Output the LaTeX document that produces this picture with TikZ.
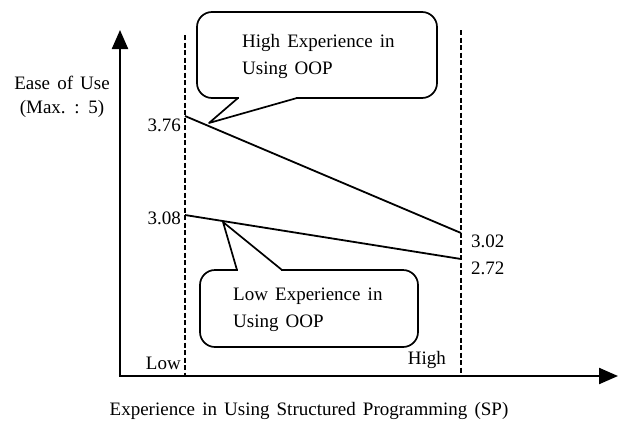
\documentclass[tikz,border=0pt]{standalone}
\usepackage{fontspec}
\setmainfont[WordSpace=1.5]{Liberation Serif}
\usetikzlibrary{arrows.meta}
\tikzset{
  axis/.style={line width=2.2pt,-{Triangle[length=19pt,width=16pt]}},
  guide/.style={line width=1.6pt,dash pattern=on 5pt off 2.5pt},
  trend/.style={line width=1.8pt},
  bubble/.style={line width=1.7pt,line join=round},
  lbl/.style={font=\fontsize{19}{27}\selectfont,inner sep=0pt,align=left},
}
\begin{document}
\begin{tikzpicture}[x=1pt,y=-1pt]
	\useasboundingbox (0,0) rectangle (621,429);
	\coordinate (orig) at (120,376);
	\coordinate (ytop) at (120,30);
	\coordinate (xend) at (618,376);
	\draw[axis] (orig) -- (ytop); % ease of use
	\draw[axis] ([xshift=-1.1pt]orig) -- (xend); % SP experience
	\coordinate (lowTop) at (185,35);
	\coordinate (lowBot) at (185,376);
	\coordinate (highTop) at (461,30);
	\coordinate (highBot) at (461,376);
	\draw[guide] (lowTop) -- (lowBot); % low SP
	\draw[guide] (highTop) -- (highBot); % high SP
	% callouts
	\coordinate (hiTip) at (209,123);
	\coordinate (loTip) at (223,222);
	\draw[bubble,rounded corners=15pt] (197,12) rectangle (437,98);
	\fill[white] (239,95) rectangle (296,101);
	\draw[bubble] (238,98) -- (hiTip) -- (297,98);
	\draw[bubble,rounded corners=15pt] (200,270) rectangle (418,347);
	\fill[white] (238,267) rectangle (281,273);
	\draw[bubble] (237,270) -- (loTip) -- (282,270);
	\node[lbl,anchor=north west] (hiTxt) at (242,34) {High Experience in\\Using OOP};
	\node[lbl,anchor=north west] (loTxt) at (233,288) {Low Experience in\\Using OOP};
	% data
	\coordinate (hiL) at (185,116);
	\coordinate (hiH) at (461,233);
	\coordinate (loL) at (185,215);
	\coordinate (loH) at (461,259);
	\draw[trend] (hiL) -- (hiH); % high OOP
	\draw[trend] (loL) -- (loH); % low OOP
	\node[lbl,anchor=east] (vHiL) at (181,125) {3.76};
	\node[lbl,anchor=east] (vLoL) at (181,218) {3.08};
	\node[lbl,anchor=west] (vHiH) at (471,241) {3.02};
	\node[lbl,anchor=west] (vLoH) at (471,268) {2.72};
	\node[lbl,anchor=east] (tLow) at (181,363) {Low};
	\node[lbl,anchor=east] (tHigh) at (446,360) {High};
	\node[lbl,align=center,font=\fontsize{19}{24}\selectfont] (ylab) at (62,97) {Ease of Use\\(Max. : 5)};
	\node[lbl] (xlab) at (309,411) {Experience in Using Structured Programming (SP)};
\end{tikzpicture}
\end{document}
